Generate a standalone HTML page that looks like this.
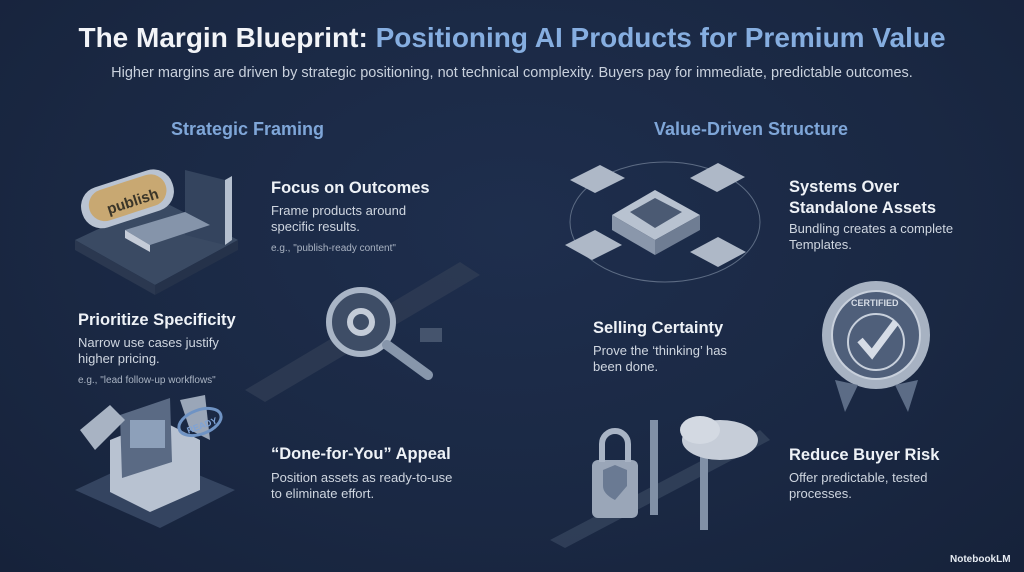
<!DOCTYPE html>
<html><head><meta charset="utf-8"><style>
*{margin:0;padding:0;box-sizing:border-box}
body{width:1024px;height:572px;overflow:hidden;background:radial-gradient(ellipse at 50% 40%,#1e2e4d 0%,#1a2843 60%,#16223a 100%);font-family:"Liberation Sans",sans-serif;position:relative;color:#e6ebf2}
.t{position:absolute;white-space:nowrap}
h1{position:absolute;left:0;width:1024px;top:22px;text-align:center;font-size:28px;font-weight:bold;color:#f2f4f8}
h1 span{color:#86aee0}
.sub{top:65px;left:0;width:1024px;text-align:center;font-size:14.5px;color:#c9d1dd}
.sec{font-size:18px;font-weight:bold;color:#7fa6d8}
.h{font-size:16.5px;font-weight:bold;color:#eef2f7;line-height:21px}
.b{font-size:13px;color:#cfd6e0;line-height:16px}
.e{font-size:10px;color:#aab4c3}
svg{position:absolute;left:0;top:0}
</style></head><body>
<svg width="1024" height="572">
<!-- publish -->
<polygon points="75,240 160,200 238,240 155,285" fill="#3a4a63"/>
<polygon points="75,240 155,285 155,295 75,250" fill="#2b3850"/>
<polygon points="155,285 238,240 238,250 155,295" fill="#25324a"/>
<rect x="80" y="178" width="95" height="42" rx="20" fill="#b9c3d2" transform="rotate(-18 127 199)"/>
<rect x="88" y="182" width="80" height="32" rx="16" fill="#c8a872" transform="rotate(-18 127 199)"/>
<text x="105" y="208" font-size="15" font-weight="bold" fill="#3a3528" transform="rotate(-18 127 199)" font-family="Liberation Sans">publish</text>
<polygon points="185,170 225,180 225,245 185,235" fill="#34445e"/>
<polygon points="225,180 232,176 232,240 225,245" fill="#b5c0cf"/>
<polygon points="125,230 185,212 210,225 150,245" fill="#8594aa"/>
<polygon points="125,230 150,245 150,252 125,238" fill="#c5ccd8"/>
<!-- magnifier road -->
<polygon points="245,390 460,262 480,275 265,402" fill="#2f3c54" opacity=".8"/>
<circle cx="361" cy="322" r="32" fill="#3e4d66" stroke="#a9b5c6" stroke-width="6"/>
<circle cx="361" cy="322" r="11" fill="none" stroke="#c4ccd8" stroke-width="6"/>
<line x1="387" y1="345" x2="428" y2="375" stroke="#8796ab" stroke-width="10" stroke-linecap="round"/>
<rect x="420" y="328" width="22" height="14" fill="#45546d"/>
<!-- gift box -->
<polygon points="75,490 150,455 235,490 160,528" fill="#344460"/>
<polygon points="110,440 160,420 200,440 200,490 150,512 110,492" fill="#b8c2d1"/>
<polygon points="120,415 170,398 172,462 122,478" fill="#5a6a84"/>
<rect x="130" y="420" width="35" height="28" fill="#8da0ba"/>
<polygon points="80,430 110,405 125,420 95,450" fill="#a8b3c3"/>
<polygon points="180,400 205,395 210,440 190,430" fill="#9aa6b8"/>
<ellipse cx="200" cy="422" rx="22" ry="12" fill="none" stroke="#6f93c4" stroke-width="3" transform="rotate(-20 200 422)"/>
<text x="185" y="429" font-size="9" font-weight="bold" fill="#7fa3d6" transform="rotate(-20 200 422)">READY</text>
<!-- chip network -->
<ellipse cx="665" cy="222" rx="95" ry="60" fill="none" stroke="#5d6c84" stroke-width="1"/>
<polygon points="612,215 655,190 700,215 655,240" fill="#b8c2d0"/>
<polygon points="612,215 655,240 655,255 612,230" fill="#8a97ab"/>
<polygon points="655,240 700,215 700,230 655,255" fill="#6f7d93"/>
<polygon points="630,212 655,198 682,212 655,228" fill="#4b5a73"/>
<g fill="#aeb8c7">
<polygon points="570,180 600,165 625,178 595,193"/>
<polygon points="690,178 718,163 745,177 717,192"/>
<polygon points="565,245 595,230 622,245 592,260"/>
<polygon points="690,252 718,237 746,252 718,267"/>
</g>
<!-- badge -->
<circle cx="876" cy="335" r="54" fill="#a7b2c2"/>
<circle cx="876" cy="335" r="44" fill="#4f5f7a" stroke="#c8d0dc" stroke-width="2"/>
<circle cx="876" cy="342" r="28" fill="none" stroke="#c8d0dc" stroke-width="2"/>
<polyline points="860,340 872,354 896,322" fill="none" stroke="#d6dce6" stroke-width="7"/>
<polygon points="835,380 858,385 845,412" fill="#5c6c86"/>
<polygon points="918,380 895,385 908,412" fill="#5c6c86"/>
<text x="851" y="306" font-size="9" font-weight="bold" fill="#d7dde7">CERTIFIED</text>
<!-- lock cloud road -->
<polygon points="550,540 760,430 770,440 565,548" fill="#34435c" opacity=".8"/>
<rect x="592" y="460" width="46" height="58" rx="6" fill="#9aa6b8"/>
<path d="M602 462 v-18 a13 13 0 0 1 26 0 v18" fill="none" stroke="#a9b4c5" stroke-width="6"/>
<path d="M603 470 l12 -5 l12 5 v16 q-12 14 -12 14 q-12 -6 -12 -14z" fill="#6a7a93"/>
<rect x="650" y="420" width="8" height="95" fill="#8190a6"/>
<rect x="700" y="450" width="8" height="80" fill="#8190a6"/>
<ellipse cx="720" cy="440" rx="38" ry="20" fill="#c6cdd8"/>
<ellipse cx="700" cy="430" rx="20" ry="14" fill="#d3d9e2"/>
</svg>
<h1>The Margin Blueprint: <span>Positioning AI Products for Premium Value</span></h1>
<div class="t sub">Higher margins are driven by strategic positioning, not technical complexity. Buyers pay for immediate, predictable outcomes.</div>
<div class="t sec" style="left:171px;top:119px">Strategic Framing</div>
<div class="t sec" style="left:654px;top:119px">Value-Driven Structure</div>

<div class="t h" style="left:271px;top:178px">Focus on Outcomes</div>
<div class="t b" style="left:271px;top:203px">Frame products around<br>specific results.</div>
<div class="t e" style="left:271px;top:243px">e.g., "publish-ready content"</div>

<div class="t h" style="left:78px;top:310px">Prioritize Specificity</div>
<div class="t b" style="left:78px;top:335px">Narrow use cases justify<br>higher pricing.</div>
<div class="t e" style="left:78px;top:375px">e.g., "lead follow-up workflows"</div>

<div class="t h" style="left:271px;top:444px">“Done-for-You” Appeal</div>
<div class="t b" style="left:271px;top:470px">Position assets as ready-to-use<br>to eliminate effort.</div>

<div class="t h" style="left:789px;top:177px">Systems Over<br>Standalone Assets</div>
<div class="t b" style="left:789px;top:221px">Bundling creates a complete<br>Templates.</div>

<div class="t h" style="left:593px;top:318px">Selling Certainty</div>
<div class="t b" style="left:593px;top:343px">Prove the ‘thinking’ has<br>been done.</div>

<div class="t h" style="left:789px;top:445px">Reduce Buyer Risk</div>
<div class="t b" style="left:789px;top:470px">Offer predictable, tested<br>processes.</div>

<div class="t" style="left:950px;top:554px;font-size:10px;color:#e6ebf2;font-weight:bold">NotebookLM</div>
</body></html>
